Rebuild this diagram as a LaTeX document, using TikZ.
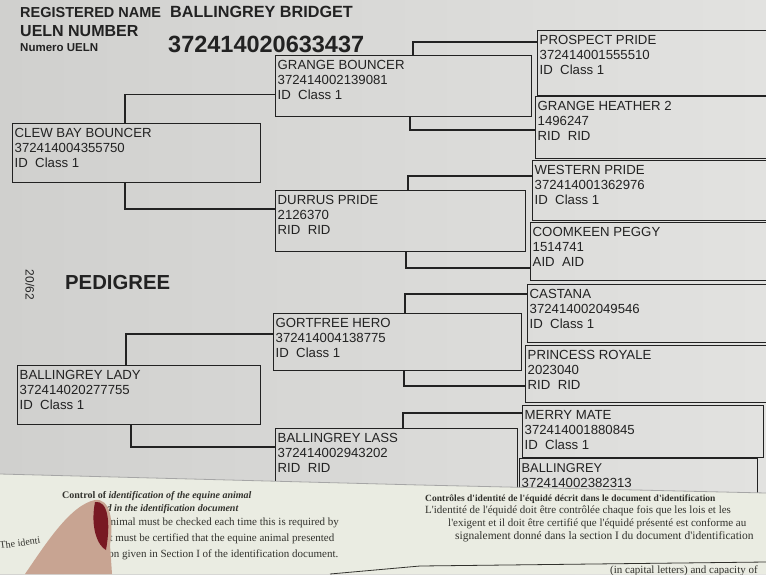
\documentclass[tikz,border=0pt]{standalone}
\usepackage{fontspec}
\setmainfont{Liberation Sans}
\newfontfamily\paperserif{Liberation Serif}
\usetikzlibrary{calc}
\definecolor{ink}{RGB}{34,34,34}
\definecolor{pageL}{RGB}{208,208,206}
\definecolor{pageR}{RGB}{226,226,224}
\definecolor{papercol}{RGB}{234,236,226}
\definecolor{paperink}{RGB}{50,50,45}
\definecolor{skin}{RGB}{200,164,146}
\definecolor{nailred}{RGB}{120,25,35}
\tikzset{
  pbox/.style={draw=ink, line width=1.1pt, rectangle, anchor=north west, inner sep=0pt},
  ptext/.style={anchor=north west, align=left, inner sep=0pt, text=ink,
    font=\fontsize{13.2}{15}\selectfont},
  link/.style={draw=ink, line width=1.1pt},
  hdr/.style={anchor=base west, inner sep=0pt, text=ink, font=\bfseries\fontsize{14.5}{16}\selectfont},
  ptxt/.style={anchor=base west, inner sep=0pt, text=paperink},
}
\newcommand\horse[6]{%
  \node[pbox, minimum width=#4pt, minimum height=#5pt] (#1) at (#2,#3) {};
  \node[ptext] (#1-t) at ([xshift=2.5pt,yshift=-5pt]#1.north west) {#6};
}
\begin{document}
\begin{tikzpicture}[x=1pt,y=-1pt]
\useasboundingbox (0,0) rectangle (766,574);
\begin{scope}
\clip (0,0) rectangle (766,574);
\shade[left color=pageL, right color=pageR] (0,0) rectangle (766,574);

% header
\node[hdr] (regname) at (20,17) {REGISTERED NAME};
\node[hdr, font=\bfseries\fontsize{16.2}{18}\selectfont] (horsename) at (170,17) {BALLINGREY BRIDGET};
\node[hdr, font=\bfseries\fontsize{16}{18}\selectfont] (uelnlabel) at (20,36) {UELN NUMBER};
\node[hdr, font=\bfseries\fontsize{11.5}{13}\selectfont] (numero) at (20,51) {Numero UELN};
\node[hdr, font=\bfseries\fontsize{23.5}{26}\selectfont] (uelnnum) at (168,52) {372414020633437};

% side labels
\node[inner sep=0pt, rotate=-90, text=ink, font=\fontsize{12}{13}\selectfont] (folio) at (30,285) {20/62};
\node[hdr, font=\bfseries\fontsize{20.3}{22}\selectfont] (pedigree) at (65,289) {PEDIGREE};

% generation 1
\horse{cb}{12}{123}{248}{59}{CLEW BAY BOUNCER\\372414004355750\\ID\ \ Class 1}
\horse{bl}{17}{365}{243}{59}{BALLINGREY LADY\\372414020277755\\ID\ \ Class 1}
% generation 2
\horse{gb}{275}{55}{256}{61}{GRANGE BOUNCER\\372414002139081\\ID\ \ Class 1}
\horse{dp}{275}{190}{250}{61}{DURRUS PRIDE\\2126370\\RID\ \ RID}
\horse{gh}{273}{313}{248}{57}{GORTFREE HERO\\372414004138775\\ID\ \ Class 1}
\horse{bls}{275}{428}{242}{62}{BALLINGREY LASS\\372414002943202\\RID\ \ RID}
% generation 3
\horse{pp}{537}{30}{240}{65}{PROSPECT PRIDE\\372414001555510\\ID\ \ Class 1}
\horse{gh2}{535}{96}{240}{62}{GRANGE HEATHER 2\\1496247\\RID\ \ RID}
\horse{wp}{532}{160}{240}{60}{WESTERN PRIDE\\372414001362976\\ID\ \ Class 1}
\horse{cp}{530}{222}{240}{58}{COOMKEEN PEGGY\\1514741\\AID\ \ AID}
\horse{ca}{527}{284}{245}{58}{CASTANA\\372414002049546\\ID\ \ Class 1}
\horse{pr}{525}{345}{245}{57}{PRINCESS ROYALE\\2023040\\RID\ \ RID}
\horse{mm}{522}{405}{241}{52}{MERRY MATE\\372414001880845\\ID\ \ Class 1}
\horse{ba}{519}{458}{238}{45}{\fontsize{12.8}{13}\selectfont BALLINGREY\\[0pt]372414002382313}

% connectors
\draw[link] ([xshift=113pt]cb.north west) |- ([yshift=23pt]gb.south west);
\draw[link] ([xshift=113pt]cb.south west) |- ([yshift=-19pt]dp.north west);
\draw[link] ([xshift=109pt]bl.north west) |- ([yshift=-21pt]gh.north west);
\draw[link] ([xshift=114pt]bl.south west) |- ([yshift=-19pt]bls.north west);
\draw[link] ([xshift=138pt]gb.north west) |- ([yshift=-12pt]pp.north west);
\draw[link] ([xshift=135pt]gb.south west) |- ([yshift=-34pt]gh2.north west);
\draw[link] ([xshift=133pt]dp.north west) |- ([yshift=-16pt]wp.north west);
\draw[link] ([xshift=131pt]dp.south west) |- ([yshift=-46pt]cp.north west);
\draw[link] ([xshift=132pt]gh.north west) |- ([yshift=-10pt]ca.north west);
\draw[link] ([xshift=131pt]gh.south west) |- ([yshift=-41pt]pr.north west);
\draw[link] ([xshift=128pt]bls.north west) |- ([yshift=-8pt]mm.north west);

% overlapping paper sheet
\fill[papercol] (0,474) -- (420,485) -- (766,493) -- (766,574) -- (0,574) -- cycle;
\draw[black!35, line width=0.8pt] (0,474) -- (420,485) -- (766,493);
\draw[paperink, line width=0.8pt] (330,574) -- (420,566) -- (766,562);

% English text (left)
\node[ptxt, font=\paperserif\bfseries\fontsize{10}{11}\selectfont] (en1) at (62,498)
  {Control of \textit{identification of the equine animal}};
\node[ptxt, font=\paperserif\bfseries\itshape\fontsize{10}{11}\selectfont] (en2) at (102,511)
  {ed in the identification document};
\node[ptxt, font=\paperserif\fontsize{11}{12}\selectfont] (en3) at (98,525)
  {e animal must be checked each time this is required by};
\node[ptxt, font=\paperserif\fontsize{11}{12}\selectfont] (en4) at (98,541)
  {d it must be certified that the equine animal presented};
\node[ptxt, font=\paperserif\fontsize{11}{12}\selectfont] (en5) at (102,557)
  {tion given in Section I of the identification document.};
\node[ptxt, rotate=8, font=\paperserif\fontsize{10}{11}\selectfont] (en0) at (0,549) {The identi};

% French text (right)
\node[ptxt, font=\paperserif\bfseries\fontsize{9.5}{11}\selectfont] (fr1) at (425,501)
  {Contrôles d'identité de l'équidé décrit dans le document d'identification};
\node[ptxt, font=\paperserif\fontsize{11}{12}\selectfont] (fr2) at (425,513)
  {L'identité de l'équidé doit être contrôlée chaque fois que les lois et les};
\node[ptxt, font=\paperserif\fontsize{11}{12}\selectfont] (fr3) at (448,526)
  {l'exigent et il doit être certifié que l'équidé présenté est conforme au};
\node[ptxt, font=\paperserif\fontsize{11.5}{12}\selectfont] (fr4) at (455,539)
  {signalement donné dans la section I du document d'identification};
\node[ptxt, font=\paperserif\fontsize{11}{12}\selectfont] (fr5) at (610,573)
  {(in capital letters) and capacity of};

% finger holding the sheet
\fill[skin] (25,574) .. controls (45,545) and (70,505) .. (95,500)
  .. controls (110,498) and (114,520) .. (110,545) -- (112,574) -- cycle;
\fill[nailred] (95,502) .. controls (108,500) and (111,522) .. (106,550)
  .. controls (98,546) and (90,528) .. (95,502) -- cycle;
\end{scope}
\end{tikzpicture}
\end{document}
